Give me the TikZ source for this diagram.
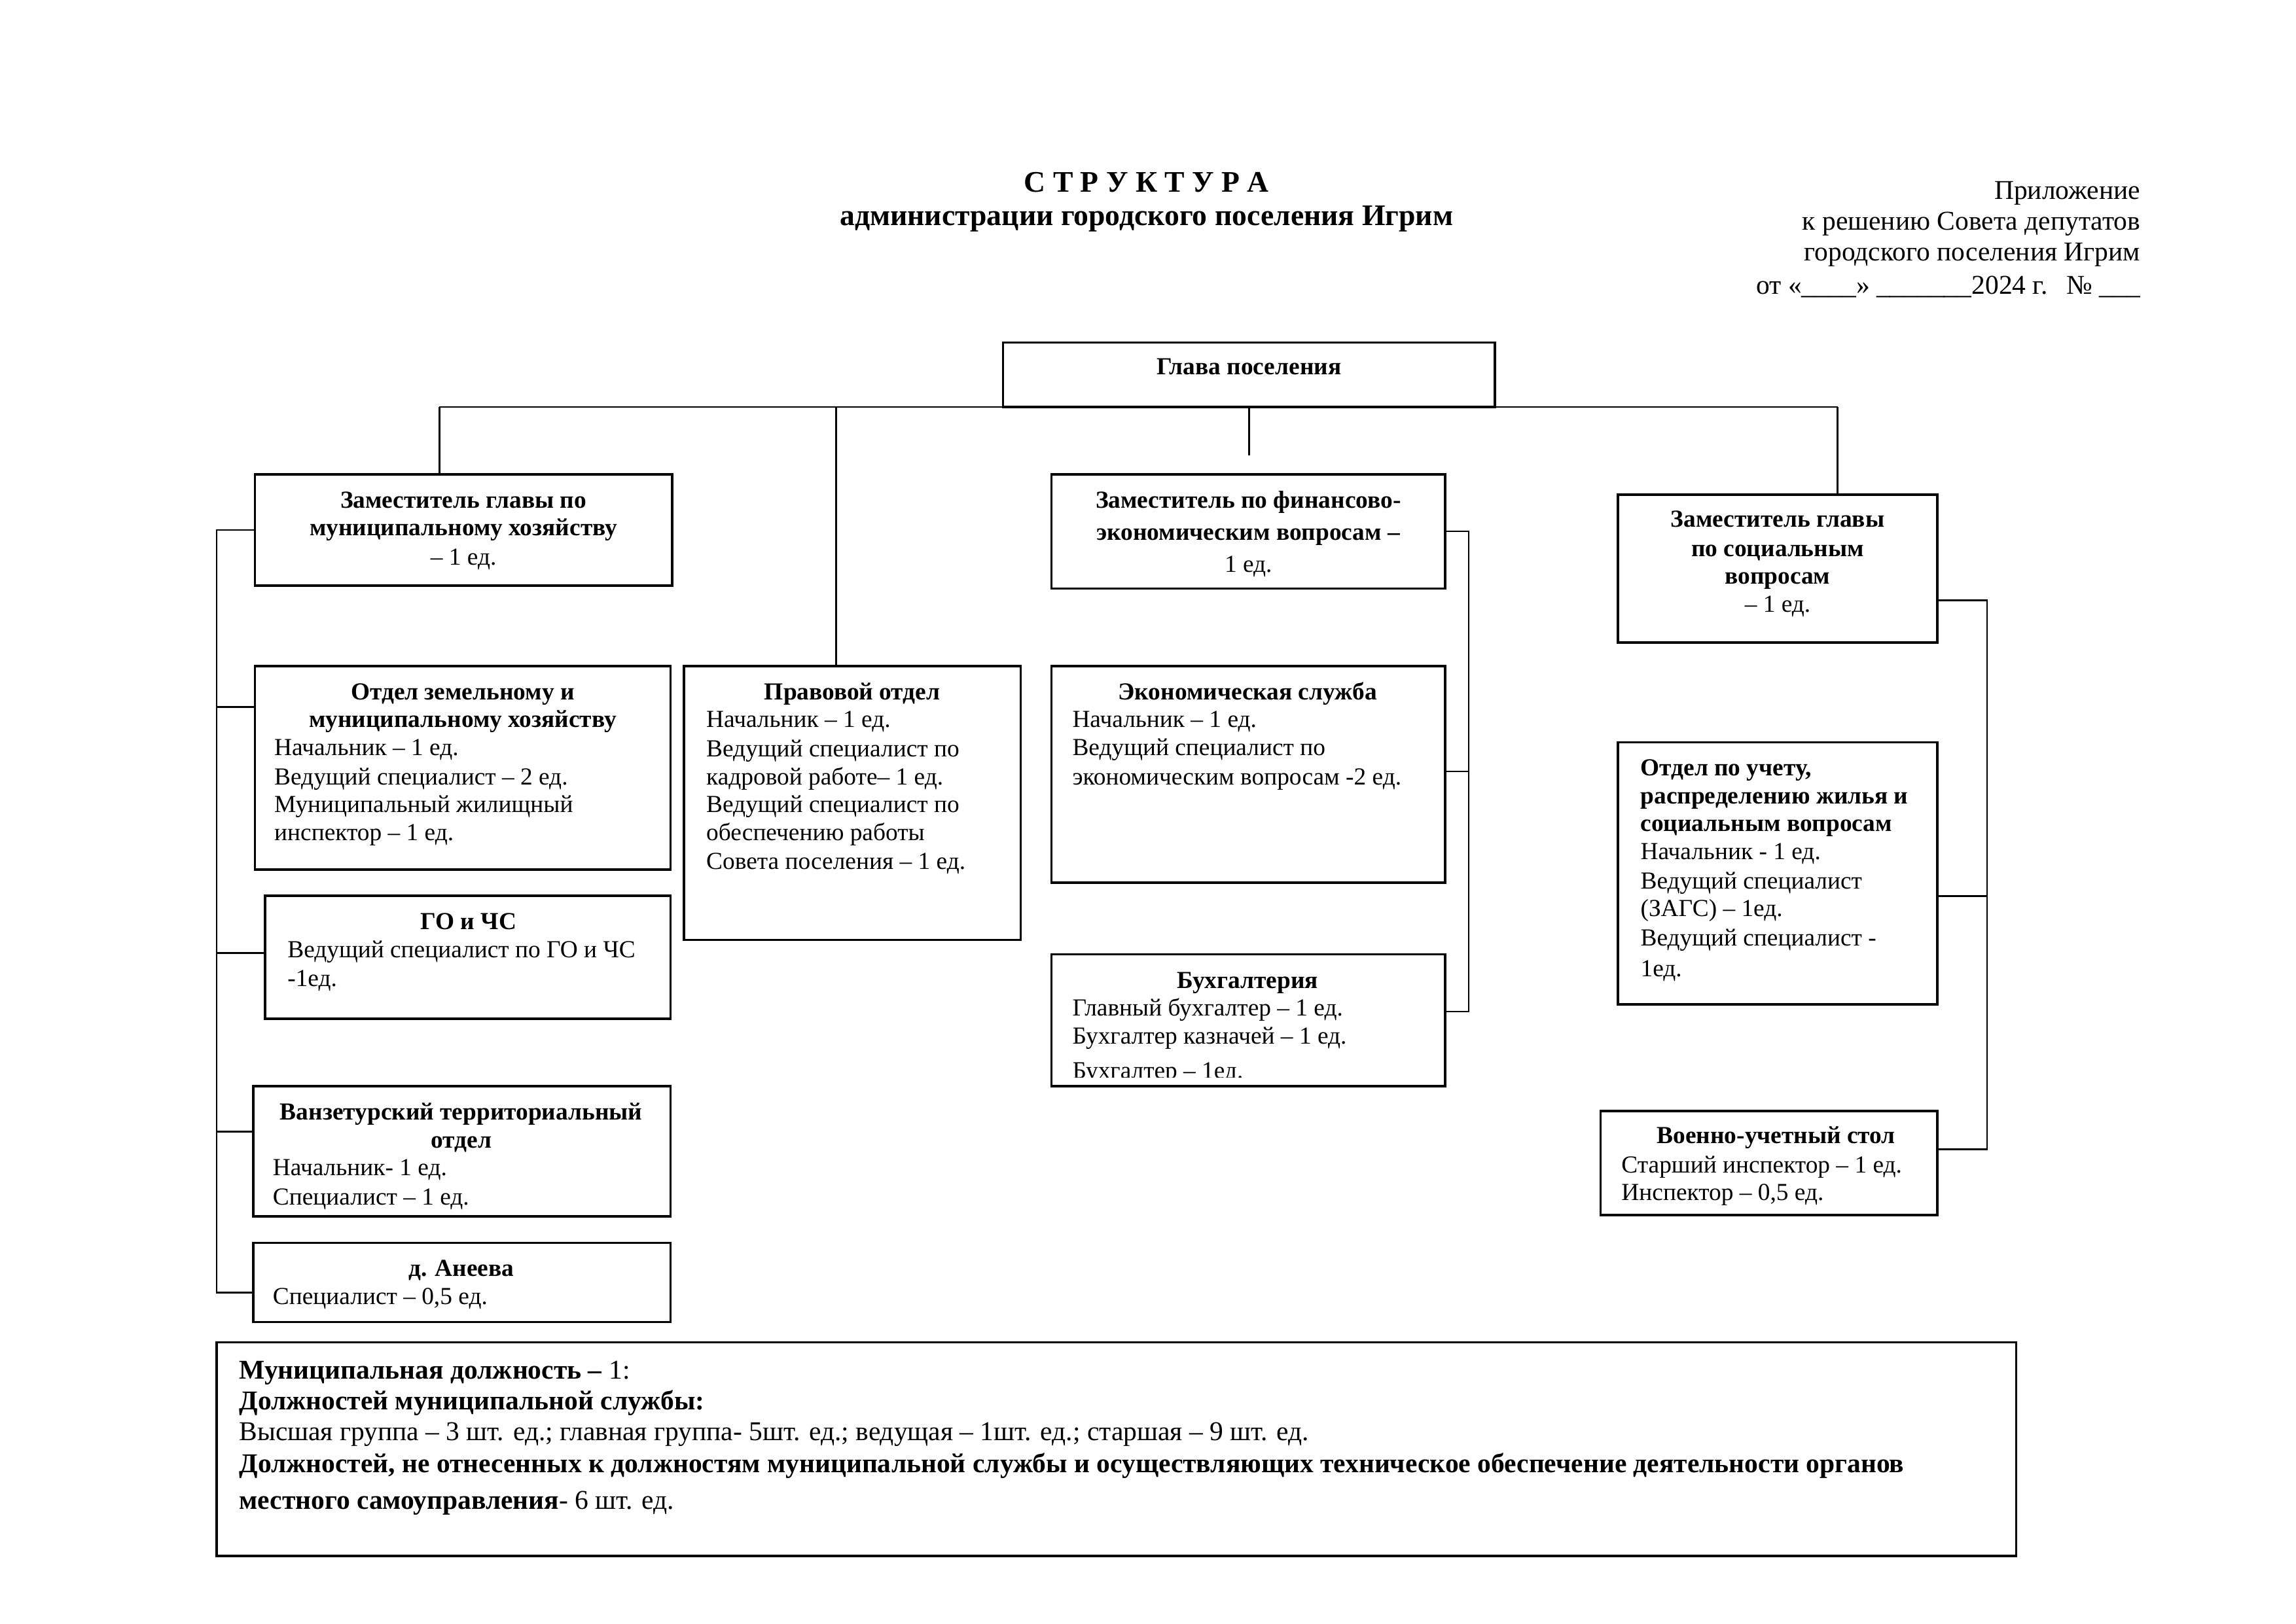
\documentclass[tikz,border=0pt]{standalone}
\usepackage{fontspec}
\setmainfont{Liberation Serif}
\usetikzlibrary{fit}
\begin{document}
\begin{tikzpicture}[x=0.018941cm,y=-0.018941cm,
  box/.style={draw, line width=0.85pt, inner sep=0pt, fit={#1}},
  conn/.style={line width=0.65pt},
  tx/.style={inner sep=0pt, font=\fontsize{9}{10.4}\selectfont},
  txb/.style={inner sep=0pt, font=\fontsize{9}{10.4}\selectfont\bfseries},
  txl/.style={inner sep=0pt, font=\fontsize{10}{12}\selectfont},
  txt/.style={inner sep=0pt, font=\fontsize{11}{13}\selectfont},
  ctr/.style={anchor=base},
  lft/.style={anchor=base west},
  rgt/.style={anchor=base east}]
\useasboundingbox (0,0) rectangle (1568,1109);

% ---------- header ----------
\node[txt,ctr,font=\fontsize{11}{13}\selectfont\bfseries] (title1) at (783,131) {С Т Р У К Т У Р А};
\node[txt,ctr,font=\fontsize{11}{13}\selectfont\bfseries] (title2) at (783,154) {администрации городского поселения Игрим};
\node[txl,rgt] (app1) at (1462,136) {Приложение};
\node[txl,rgt] (app2) at (1462,157) {к решению Совета депутатов};
\node[txl,rgt] (app3) at (1462,178) {городского поселения Игрим};
\node[txl,rgt] (app4) at (1462,201) {от «\_\_\_\_» \_\_\_\_\_\_\_2024 г.\hspace{7pt}№ \_\_\_};

% ---------- boxes ----------
\node[box={(685,234) (1021,278)}] (glava) {};
\node[box={(174,324) (459,400)}] (zam1) {};
\node[box={(718,324) (987,402)}] (zamfin) {};
\node[box={(1105,338) (1323,439)}] (zamsoc) {};
\node[box={(174,455) (458,594)}] (otdzem) {};
\node[box={(467,455) (697,642)}] (prav) {};
\node[box={(181,612) (458,696)}] (go) {};
\node[box={(173,742) (458,831)}] (vanz) {};
\node[box={(173,849) (458,903)}] (anee) {};
\node[box={(718,455) (987,603)}] (econ) {};
\node[box={(718,652) (987,742)}] (buh) {};
\node[box={(1105,507) (1323,686)}] (uchet) {};
\node[box={(1093,759) (1323,830)}] (voen) {};
\node[box={(148,917) (1377,1063)}] (summary) {};

% ---------- box texts ----------
\node[txb,ctr] (glt) at (853,256) {Глава поселения};

\node[txb,ctr] (z1a) at (316.5,347) {Заместитель главы по};
\node[txb,ctr] (z1b) at (316.5,366) {муниципальному хозяйству};
\node[tx,ctr] (z1c) at (316.5,386) {– 1 ед.};

\node[txb,ctr] (zfa) at (852.5,347) {Заместитель по финансово-};
\node[txb,ctr] (zfb) at (852.5,369) {экономическим вопросам –};
\node[tx,ctr] (zfc) at (852.5,391) {1 ед.};

\node[txb,ctr] (zsa) at (1214,360) {Заместитель главы};
\node[txb,ctr] (zsb) at (1214,380) {по социальным};
\node[txb,ctr] (zsc) at (1214,399) {вопросам};
\node[tx,ctr] (zsd) at (1214,418) {– 1 ед.};

\node[txb,ctr] (oza) at (316,478) {Отдел земельному и};
\node[txb,ctr] (ozb) at (316,497) {муниципальному хозяйству};
\node[tx,lft] (ozc) at (187,516) {Начальник – 1 ед.};
\node[tx,lft] (ozd) at (187,536) {Ведущий специалист – 2 ед.};
\node[tx,lft] (oze) at (187,555) {Муниципальный жилищный};
\node[tx,lft] (ozf) at (187,574) {инспектор – 1 ед.};

\node[txb,ctr] (pra) at (582,478) {Правовой отдел};
\node[tx,lft] (prb) at (482,497) {Начальник – 1 ед.};
\node[tx,lft] (prc) at (482,517) {Ведущий специалист по};
\node[tx,lft] (prd) at (482,536) {кадровой работе– 1 ед.};
\node[tx,lft] (pre) at (482,555) {Ведущий специалист по};
\node[tx,lft] (prf) at (482,574) {обеспечению работы};
\node[tx,lft] (prg) at (482,594) {Совета поселения – 1 ед.};

\node[txb,ctr] (goa) at (320,635) {ГО и ЧС};
\node[tx,lft] (gob) at (196,654) {Ведущий специалист по ГО и ЧС};
\node[tx,lft] (goc) at (196,674) {-1ед.};

\node[txb,ctr] (vza) at (315,765) {Ванзетурский территориальный};
\node[txb,ctr] (vzb) at (315,784) {отдел};
\node[tx,lft] (vzc) at (186,803) {Начальник- 1 ед.};
\node[tx,lft] (vzd) at (186,823) {Специалист – 1 ед.};

\node[txb,ctr] (ana) at (315,872) {д. Анеева};
\node[tx,lft] (anb) at (186,891) {Специалист – 0,5 ед.};

\node[txb,ctr] (eca) at (852,478) {Экономическая служба};
\node[tx,lft] (ecb) at (732,497) {Начальник – 1 ед.};
\node[tx,lft] (ecc) at (732,516) {Ведущий специалист по};
\node[tx,lft] (ecd) at (732,536) {экономическим вопросам -2 ед.};

\node[txb,ctr] (bua) at (852,675) {Бухгалтерия};
\node[tx,lft] (bub) at (732,694) {Главный бухгалтер – 1 ед.};
\node[tx,lft] (buc) at (732,713) {Бухгалтер казначей – 1 ед.};
\begin{scope}
\clip (718,652) rectangle (987,736);
\node[tx,lft] (bud) at (732,737) {Бухгалтер – 1ед.};
\end{scope}

\node[txb,lft] (uca) at (1120,530) {Отдел по учету,};
\node[txb,lft] (ucb) at (1120,549) {распределению жилья и};
\node[txb,lft] (ucc) at (1120,568) {социальным вопросам};
\node[tx,lft] (ucd) at (1120,587) {Начальник - 1 ед.};
\node[tx,lft] (uce) at (1120,607) {Ведущий специалист};
\node[tx,lft] (ucf) at (1120,626) {(ЗАГС) – 1ед.};
\node[tx,lft] (ucg) at (1120,646) {Ведущий специалист -};
\node[tx,lft] (uch) at (1120,667) {1ед.};

\node[txb,ctr] (voa) at (1213,781) {Военно-учетный стол};
\node[tx,lft] (vob) at (1107,801) {Старший инспектор – 1 ед.};
\node[tx,lft] (voc) at (1107,820) {Инспектор – 0,5 ед.};

\node[txl,lft] (sm1) at (163,942) {\textbf{Муниципальная должность –} 1:};
\node[txl,lft] (sm2) at (163,963) {\textbf{Должностей муниципальной службы:}};
\node[txl,lft] (sm3) at (163,984) {Высшая группа – 3 шт. ед.; главная группа- 5шт. ед.; ведущая – 1шт. ед.; старшая – 9 шт. ед.};
\node[txl,lft] (sm4) at (163,1006) {\textbf{Должностей, не отнесенных к должностям муниципальной службы и осуществляющих техническое обеспечение деятельности органов}};
\node[txl,lft] (sm5) at (163,1031) {\textbf{местного самоуправления}- 6 шт. ед.};

% ---------- connectors ----------
\coordinate (tbL) at (300,278);
\coordinate (tbM) at (571,278);
\coordinate (tbR) at (1255,278);
\coordinate (gstub) at (853,311);
\draw[conn] (tbL) -- (tbR);
\draw[conn] (tbL) -- (tbL |- zam1.north);
\draw[conn] (tbM) -- (tbM |- prav.north);
\draw[conn] (glava.south) -- (gstub);
\draw[conn] (tbR) -- (tbR |- zamsoc.north);

\coordinate (lb1) at (148,362);
\coordinate (lb2) at (148,483);
\coordinate (lb3) at (148,651);
\coordinate (lb4) at (148,773);
\coordinate (lb5) at (148,883);
\draw[conn] (zam1.west) -- (lb1) -- (lb5) -- (lb5 -| anee.west);
\draw[conn] (lb2) -- (lb2 -| otdzem.west);
\draw[conn] (lb3) -- (lb3 -| go.west);
\draw[conn] (lb4) -- (lb4 -| vanz.west);

\coordinate (fb1) at (1003,363);
\coordinate (fb2) at (1003,527);
\coordinate (fb3) at (1003,691);
\draw[conn] (zamfin.east) -- (fb1) -- (fb3) -- (fb3 -| buh.east);
\draw[conn] (fb2) -- (fb2 -| econ.east);

\coordinate (sb1) at (1357,410);
\coordinate (sb2) at (1357,612);
\coordinate (sb3) at (1357,785);
\draw[conn] (sb1 -| zamsoc.east) -- (sb1) -- (sb3) -- (sb3 -| voen.east);
\draw[conn] (sb2) -- (sb2 -| uchet.east);
\end{tikzpicture}
\end{document}
